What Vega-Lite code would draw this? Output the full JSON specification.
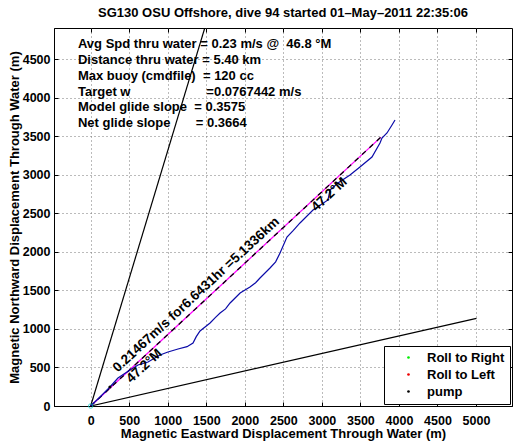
{
  "$schema": "https://vega.github.io/schema/vega-lite/v6.json",
  "width": 458,
  "height": 378,
  "autosize": "none",
  "padding": {"left": 54, "top": 28, "right": 9, "bottom": 36},
  "background": "white",
  "config": {
    "font": "Liberation Sans",
    "view": {"stroke": "black", "strokeWidth": 1},
    "axis": {
      "labelFont": "Liberation Sans", "labelFontWeight": "bold", "labelFontSize": 12.5, "labelColor": "black",
      "titleFont": "Liberation Sans", "titleFontWeight": "bold", "titleFontSize": 13, "titleColor": "black",
      "domainColor": "black", "tickColor": "black", "tickSize": -4,
      "gridColor": "#777777", "gridDash": [1, 3], "gridOpacity": 1, "gridWidth": 1
    },
    "legend": {
      "orient": "bottom-right", "offset": 2,
      "strokeColor": "black", "fillColor": "white", "padding": 5,
      "labelFont": "Liberation Sans", "labelFontWeight": "bold", "labelFontSize": 13, "labelColor": "black",
      "symbolType": "circle", "symbolSize": 7, "symbolStrokeWidth": 0,
      "rowPadding": 3, "symbolOffset": 13, "labelOffset": 12
    }
  },
  "title": {
    "text": "SG130 OSU Offshore, dive 94 started 01–May–2011 22:35:06",
    "font": "Liberation Sans", "fontSize": 13, "fontWeight": "bold", "color": "black",
    "anchor": "middle", "offset": 8
  },
  "datasets": {
    "track": [
      {"seq": 0, "east": 0, "north": 0},
      {"seq": 1, "east": 121, "north": 117},
      {"seq": 2, "east": 250, "north": 247},
      {"seq": 3, "east": 354, "north": 363},
      {"seq": 4, "east": 471, "north": 441},
      {"seq": 5, "east": 614, "north": 532},
      {"seq": 6, "east": 744, "north": 571},
      {"seq": 7, "east": 899, "north": 662},
      {"seq": 8, "east": 1003, "north": 701},
      {"seq": 9, "east": 1133, "north": 740},
      {"seq": 10, "east": 1250, "north": 770},
      {"seq": 11, "east": 1328, "north": 818},
      {"seq": 12, "east": 1370, "north": 900},
      {"seq": 13, "east": 1419, "north": 973},
      {"seq": 14, "east": 1549, "north": 1077},
      {"seq": 15, "east": 1620, "north": 1150},
      {"seq": 16, "east": 1679, "north": 1207},
      {"seq": 17, "east": 1750, "north": 1260},
      {"seq": 18, "east": 1809, "north": 1337},
      {"seq": 19, "east": 1939, "north": 1466},
      {"seq": 20, "east": 2067, "north": 1544},
      {"seq": 21, "east": 2140, "north": 1600},
      {"seq": 22, "east": 2197, "north": 1661},
      {"seq": 23, "east": 2327, "north": 1791},
      {"seq": 24, "east": 2400, "north": 1870},
      {"seq": 25, "east": 2457, "north": 1985},
      {"seq": 26, "east": 2547, "north": 2193},
      {"seq": 27, "east": 2630, "north": 2280},
      {"seq": 28, "east": 2716, "north": 2375},
      {"seq": 29, "east": 2885, "north": 2543},
      {"seq": 30, "east": 3079, "north": 2673},
      {"seq": 31, "east": 3105, "north": 2803},
      {"seq": 32, "east": 3209, "north": 2894},
      {"seq": 33, "east": 3365, "north": 2998},
      {"seq": 34, "east": 3494, "north": 3101},
      {"seq": 35, "east": 3650, "north": 3231},
      {"seq": 36, "east": 3754, "north": 3413},
      {"seq": 37, "east": 3780, "north": 3478},
      {"seq": 38, "east": 3845, "north": 3543},
      {"seq": 39, "east": 3910, "north": 3647},
      {"seq": 40, "east": 3949, "north": 3711}
    ],
    "rays": [
      {"ray": "steep", "seq": 0, "east": 0, "north": 0},
      {"ray": "steep", "seq": 1, "east": 1483, "north": 4914},
      {"ray": "shallow", "seq": 0, "east": 0, "north": 0},
      {"ray": "shallow", "seq": 1, "east": 5006, "north": 1137}
    ],
    "mean": [
      {"seq": 0, "east": 0, "north": 0},
      {"seq": 1, "east": 3766, "north": 3489}
    ],
    "info": [
      {"line": "Avg Spd thru water = 0.23 m/s @\u00a0 46.8 °M", "east": -165, "north": 4698},
      {"line": "Distance thru water = 5.40 km", "east": -165, "north": 4490},
      {"line": "Max buoy (cmdfile)\u00a0 = 120 cc", "east": -165, "north": 4282},
      {"line": "Target w\u00a0\u00a0\u00a0\u00a0\u00a0\u00a0\u00a0\u00a0\u00a0\u00a0\u00a0\u00a0\u00a0\u00a0\u00a0\u00a0\u00a0\u00a0\u00a0\u00a0 =0.0767442 m/s", "east": -165, "north": 4075},
      {"line": "Model glide slope\u00a0 = 0.3575", "east": -165, "north": 3874},
      {"line": "Net glide slope\u00a0\u00a0\u00a0\u00a0\u00a0\u00a0 = 0.3664", "east": -165, "north": 3672}
    ],
    "above": [
      {"label": "0.21467m/s for6.6431hr =5.1336km", "east": 405, "north": 375}
    ],
    "below": [
      {"label": "47.2°M", "east": 430, "north": 398},
      {"label": "47.2°M", "east": 2830, "north": 2622}
    ],
    "events": [
      {"event": "pump", "east": 250, "north": 247}
    ],
    "start": [
      {"east": 0, "north": 0}
    ]
  },
  "resolve": {"axis": {"x": "independent", "y": "independent"}},
  "layer": [
    {
      "data": {"name": "mean"},
      "mark": {"type": "line", "clip": true, "opacity": 0},
      "encoding": {
        "x": {"field": "east", "type": "quantitative",
              "scale": {"domain": [-476, 5467], "nice": false, "zero": false},
              "axis": {"orient": "bottom", "values": [0, 500, 1000, 1500, 2000, 2500, 3000, 3500, 4000, 4500, 5000],
                       "format": "d", "grid": true, "labelPadding": 12, "titlePadding": 1,
                       "title": "Magnetic Eastward Displacement Through Water (m)"}},
        "y": {"field": "north", "type": "quantitative",
              "scale": {"domain": [0, 4905], "nice": false, "zero": false},
              "axis": {"orient": "left", "values": [0, 500, 1000, 1500, 2000, 2500, 3000, 3500, 4000, 4500],
                       "format": "d", "grid": true, "labelPadding": 8, "titlePadding": 1,
                       "title": "Magnetic Northward Displacement Through Water (m)"}},
        "order": {"field": "seq"}
      }
    },
    {
      "data": {"name": "mean"},
      "mark": {"type": "line", "clip": true, "opacity": 0},
      "encoding": {
        "x": {"field": "east", "type": "quantitative",
              "scale": {"domain": [-476, 5467], "nice": false, "zero": false},
              "axis": {"orient": "top", "values": [0, 500, 1000, 1500, 2000, 2500, 3000, 3500, 4000, 4500, 5000],
                       "grid": false, "labels": false, "title": null, "domain": false}},
        "y": {"field": "north", "type": "quantitative",
              "scale": {"domain": [0, 4905], "nice": false, "zero": false},
              "axis": {"orient": "right", "values": [0, 500, 1000, 1500, 2000, 2500, 3000, 3500, 4000, 4500],
                       "grid": false, "labels": false, "title": null, "domain": false}},
        "order": {"field": "seq"}
      }
    },
    {
      "data": {"name": "rays"},
      "mark": {"type": "line", "clip": true, "color": "black", "strokeWidth": 1.2},
      "encoding": {
        "x": {"field": "east", "type": "quantitative", "axis": null},
        "y": {"field": "north", "type": "quantitative", "axis": null},
        "detail": {"field": "ray"},
        "order": {"field": "seq"}
      }
    },
    {
      "data": {"name": "mean"},
      "mark": {"type": "line", "clip": true, "color": "#ff00ff", "strokeWidth": 1.3},
      "encoding": {
        "x": {"field": "east", "type": "quantitative", "axis": null},
        "y": {"field": "north", "type": "quantitative", "axis": null},
        "order": {"field": "seq"}
      }
    },
    {
      "data": {"name": "mean"},
      "mark": {"type": "line", "clip": true, "color": "black", "strokeWidth": 1.3, "strokeDash": [5, 5]},
      "encoding": {
        "x": {"field": "east", "type": "quantitative", "axis": null},
        "y": {"field": "north", "type": "quantitative", "axis": null},
        "order": {"field": "seq"}
      }
    },
    {
      "data": {"name": "track"},
      "mark": {"type": "line", "clip": true, "color": "#0a0aa8", "strokeWidth": 1.2},
      "encoding": {
        "x": {"field": "east", "type": "quantitative", "axis": null},
        "y": {"field": "north", "type": "quantitative", "axis": null},
        "order": {"field": "seq"}
      }
    },
    {
      "data": {"name": "start"},
      "mark": {"type": "point", "shape": "circle", "color": "#00cccc", "size": 20, "strokeWidth": 1},
      "encoding": {
        "x": {"field": "east", "type": "quantitative", "axis": null},
        "y": {"field": "north", "type": "quantitative", "axis": null}
      }
    },
    {
      "data": {"name": "events"},
      "mark": {"type": "circle", "size": 10, "opacity": 1},
      "encoding": {
        "x": {"field": "east", "type": "quantitative", "axis": null},
        "y": {"field": "north", "type": "quantitative", "axis": null},
        "color": {"field": "event", "type": "nominal",
                  "scale": {"domain": ["Roll to Right", "Roll to Left", "pump"], "range": ["#00ee00", "#ee0000", "#000000"]},
                  "legend": {"title": null}}
      }
    },
    {
      "data": {"name": "info"},
      "mark": {"type": "text", "align": "left", "baseline": "middle", "font": "Liberation Sans", "fontWeight": "bold", "fontSize": 13, "color": "black"},
      "encoding": {
        "x": {"field": "east", "type": "quantitative", "axis": null},
        "y": {"field": "north", "type": "quantitative", "axis": null},
        "text": {"field": "line"}
      }
    },
    {
      "data": {"name": "above"},
      "mark": {"type": "text", "align": "left", "baseline": "bottom", "angle": -42.8, "dy": -3, "font": "Liberation Sans", "fontWeight": "bold", "fontSize": 13.5, "color": "black"},
      "encoding": {
        "x": {"field": "east", "type": "quantitative", "axis": null},
        "y": {"field": "north", "type": "quantitative", "axis": null},
        "text": {"field": "label"}
      }
    },
    {
      "data": {"name": "below"},
      "mark": {"type": "text", "align": "left", "baseline": "top", "angle": -42.8, "dy": 0, "font": "Liberation Sans", "fontWeight": "bold", "fontSize": 13.5, "color": "black"},
      "encoding": {
        "x": {"field": "east", "type": "quantitative", "axis": null},
        "y": {"field": "north", "type": "quantitative", "axis": null},
        "text": {"field": "label"}
      }
    }
  ]
}
